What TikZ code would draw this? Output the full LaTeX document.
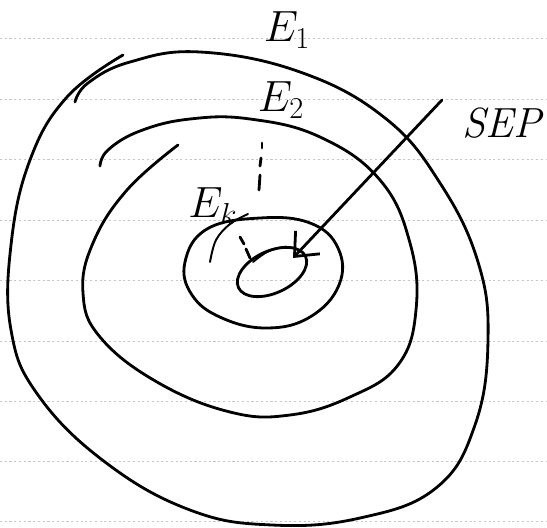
\documentclass[tikz,border=0pt]{standalone}
\usetikzlibrary{arrows.meta,calc}

\begin{document}
\begin{tikzpicture}[x=0.02cm,y=-0.02cm,
  contour/.style={line width=1.6pt,line cap=round,line join=round},
  thinstroke/.style={line width=1.1pt,line cap=round},
  ruling/.style={gray!45,line width=0.5pt,dash pattern=on 1.2pt off 1.5pt},
  lbl/.style={font=\fontsize{24}{28}\selectfont,inner sep=0pt}]

  \useasboundingbox (0,0) rectangle (547,527);
  \fill[white] (0,0) rectangle (547,527);

  % ruled paper
  \foreach \y in {38,99,159,220,280,341,401,461,521}
    \draw[ruling] (0,\y) -- (547,\y);

  % level set E1
  \draw[contour] plot[smooth,tension=0.7] coordinates {
    (123,55) (67,97) (30,160) (11,245) (11,330) (38,395) (105,462)
    (190,510) (272,525) (360,518) (436,488) (475,425) (488,340)
    (478,262) (440,183) (385,118) (300,72) (200,52) (130,62) (88,83)
    (75,102)};

  % level set E2
  \draw[contour] plot[smooth,tension=0.7] coordinates {
    (178,145) (127,190) (93,243) (83,293) (100,337) (157,382) (230,412)
    (290,415) (350,397) (398,365) (416,310) (410,243) (380,180) (320,137)
    (250,119) (190,119) (140,131) (108,150) (100,166)};

  % level set Ek
  \draw[contour] plot[smooth cycle,tension=0.7] coordinates {
    (185,262) (207,229) (260,218) (310,223) (338,248) (339,285) (310,317)
    (267,328) (222,318) (192,295)};
  \draw[thinstroke] plot[smooth,tension=0.6] coordinates {
    (210,262) (216,240) (230,224) (248,214)};

  % equilibrium region
  \draw[contour,rotate around={25:(272,272)}] (272,272) ellipse [x radius=37,y radius=21];
  \draw[thinstroke] plot[smooth,tension=0.6] coordinates {
    (253,262) (267,252) (283,247) (293,248)};

  % further levels
  \draw[contour] (262,143) -- (262,148);
  \draw[contour] (261,158) -- (260,166);
  \draw[contour] (260,175) -- (259,190);
  \draw[contour] (240,237) -- (244,244);
  \draw[contour] (246,249) -- (250,258);

  % labels
  \node[lbl] (e1) at (287,30) {$E_1$};
  \node[lbl] (e2) at (281,100) {$E_2$};
  \node[lbl] (ek) at (213,206) {$E_k$};
  \node[lbl] (sep) at (503,123) {\textit{SEP}};

  \coordinate (tail) at ($(sep.west)+(-20,-23)$);
  \coordinate (tip) at (293,258);
  \draw[contour,-{Straight Barb[length=11pt,width=19pt]}] (tail) -- (tip);
\end{tikzpicture}
\end{document}
